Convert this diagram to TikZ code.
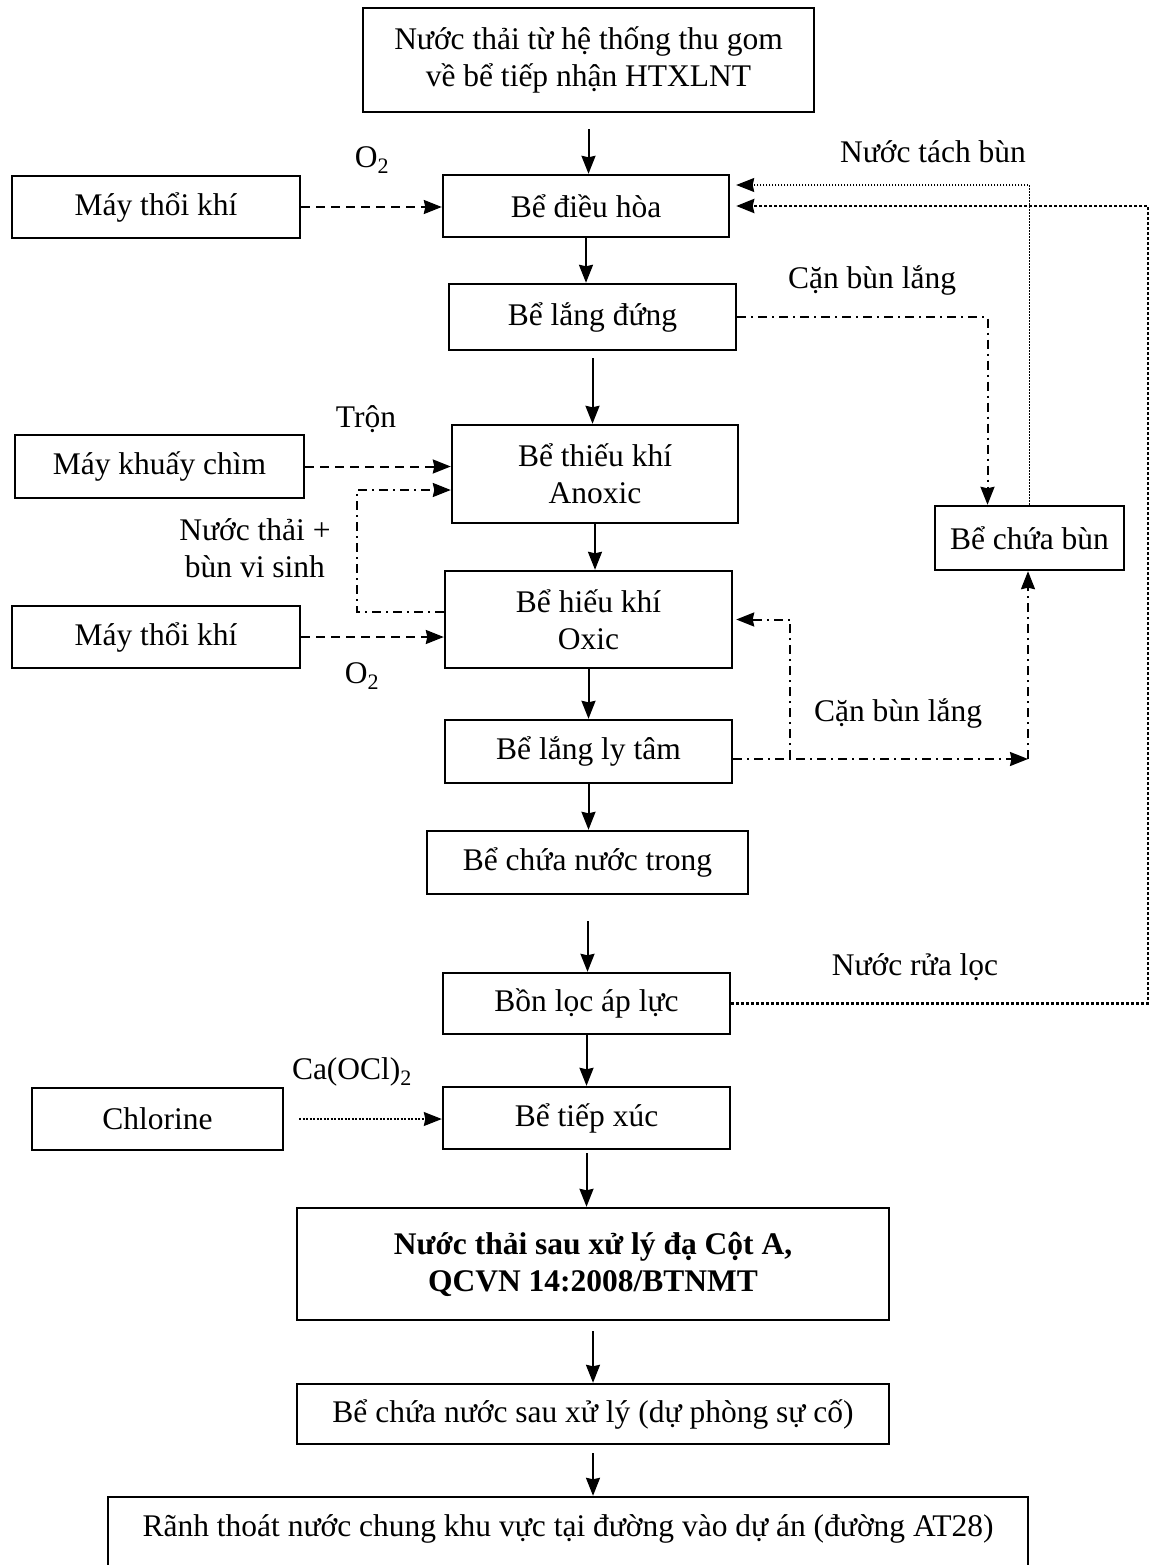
\documentclass[tikz,border=0pt]{standalone}
\usepackage{fontspec}
\setmainfont{Liberation Serif}
\usetikzlibrary{arrows.meta}

\tikzset{
  tank/.style={draw, line width=2.4pt, align=center, inner sep=0pt},
  flow/.style={line width=2pt, -{Stealth[length=18pt,width=14pt,inset=1.5pt]}},
  air/.style={flow, dash pattern=on 9pt off 6pt},
  sludge/.style={flow, dash pattern=on 9pt off 5pt on 2pt off 5pt},
  thinret/.style={flow, line width=1.2pt, dash pattern=on 1.5pt off 1.5pt},
  rinse/.style={flow, line width=2.8pt, dash pattern=on 3pt off 2pt},
  dose/.style={flow, line width=1.4pt, dash pattern=on 2pt off 1.5pt}
}

\begin{document}
\begin{tikzpicture}[x=1pt,y=-1pt,font=\fontsize{31.5}{37}\selectfont]

  \useasboundingbox (0,0) rectangle (1156,1565);

  % main line
  \node[tank, minimum width=451pt, minimum height=104pt] (src) at (588.5,60)
       {Nước thải từ hệ thống thu gom\\về bể tiếp nhận HTXLNT};
  \node[tank, minimum width=286pt, minimum height=62pt]  (dh)  at (586,206)    {Bể điều hòa};
  \node[tank, minimum width=287pt, minimum height=66pt]  (ld)  at (592.5,317)  {Bể lắng đứng};
  \node[tank, minimum width=286pt, minimum height=98pt]  (tk)  at (595,474)    {Bể thiếu khí\\Anoxic};
  \node[tank, minimum width=287pt, minimum height=97pt]  (hk)  at (588.5,619.5) {Bể hiếu khí\\Oxic};
  \node[tank, minimum width=287pt, minimum height=63pt]  (lt)  at (588.5,751.5) {Bể lắng ly tâm};
  \node[tank, minimum width=321pt, minimum height=63pt]  (cnt) at (587.5,862.5) {Bể chứa nước trong};
  \node[tank, minimum width=287pt, minimum height=61pt]  (bl)  at (586.5,1003.5) {Bồn lọc áp lực};
  \node[tank, minimum width=287pt, minimum height=62pt]  (tx)  at (586.5,1118) {Bể tiếp xúc};
  \node[tank, minimum width=592pt, minimum height=112pt, font=\fontsize{31.5}{37}\selectfont\bfseries]
       (out) at (593,1264) {Nước thải sau xử lý đạ Cột A,\\QCVN 14:2008/BTNMT};
  \node[tank, minimum width=592pt, minimum height=60pt]  (dp)  at (593,1414)
       {Bể chứa nước sau xử lý (dự phòng sự cố)};
  \node[tank, minimum width=920pt, minimum height=73pt, text depth=16pt] (ranh) at (568,1533.5)
       {Rãnh thoát nước chung khu vực tại đường vào dự án (đường AT28)};

  % side equipment
  \node[tank, minimum width=288pt, minimum height=62pt]  (mtk1) at (156,207)    {Máy thổi khí};
  \node[tank, minimum width=289pt, minimum height=63pt]  (mkc)  at (159.5,466.5) {Máy khuấy chìm};
  \node[tank, minimum width=288pt, minimum height=62pt]  (mtk2) at (156,637)    {Máy thổi khí};
  \node[tank, minimum width=251pt, minimum height=62pt]  (chl)  at (157.5,1119) {Chlorine};
  \node[tank, minimum width=189pt, minimum height=64pt]  (cb)   at (1029.5,538) {Bể chứa bùn};

  % labels
  \node (o2a)   at (372,160)  {O\textsubscript{2}};
  \node (tron)  at (366,419)  {Trộn};
  \node[align=center] (nvs) at (255,548) {Nước thải +\\bùn vi sinh};
  \node (o2b)   at (362,676)  {O\textsubscript{2}};
  \node (ntb)   at (933,152)  {Nước tách bùn};
  \node (cbl1)  at (872,280)  {Cặn bùn lắng};
  \node (cbl2)  at (898,713)  {Cặn bùn lắng};
  \node (nrl)   at (915,967)  {Nước rửa lọc};
  \node (caocl) at (352,1072) {Ca(OCl)\textsubscript{2}};

  \coordinate (ret)   at (357,490);
  \coordinate (rc)    at (1148,206);
  \coordinate (sc)    at (1028,759);
  \coordinate (sb)    at (790,759);

  % vertical flow
  \draw[flow, shorten <=16pt] (src.south) -- (src.south |- dh.north);
  \draw[flow]                 (dh.south)  -- (dh.south |- ld.north);
  \draw[flow, shorten <=7pt]  (ld.south)  -- (ld.south |- tk.north);
  \draw[flow]                 (tk.south)  -- (tk.south |- hk.north);
  \draw[flow]                 (hk.south)  -- (hk.south |- lt.north);
  \draw[flow]                 (lt.south)  -- (lt.south |- cnt.north);
  \draw[flow, shorten <=26pt] (cnt.south) -- (cnt.south |- bl.north);
  \draw[flow]                 (bl.south)  -- (bl.south |- tx.north);
  \draw[flow, shorten <=3pt]  (tx.south)  -- (tx.south |- out.north);
  \draw[flow, shorten <=10pt] (out.south) -- (out.south |- dp.north);
  \draw[flow, shorten <=8pt]  (dp.south)  -- (dp.south |- ranh.north);

  % air and mixing
  \draw[air] (mtk1.east) -- (mtk1.east -| dh.west);
  \draw[air] (mkc.east)  -- (mkc.east -| tk.west);
  \draw[air] (mtk2.east) -- (mtk2.east -| hk.west);
  \draw[sludge] ([yshift=7.5pt]hk.west) -| (ret) -- (ret -| tk.west);

  % sludge and return lines
  \draw[sludge] (ld.east) -| ([xshift=-42pt]cb.north);
  \draw[thinret] (cb.north) |- ([yshift=21pt,xshift=6pt]dh.east);
  \draw[rinse] (bl.east) -| (rc) -- ([xshift=6pt]dh.east);
  \draw[sludge] ([yshift=-7.5pt]lt.east) -- (sc);
  \draw[sludge] (sc) -- (sc |- cb.south);
  \draw[sludge] (sb) |- ([xshift=3pt]hk.east);

  % chlorine dosing
  \draw[dose, shorten <=15pt] (chl.east) -- (chl.east -| tx.west);

\end{tikzpicture}
\end{document}
